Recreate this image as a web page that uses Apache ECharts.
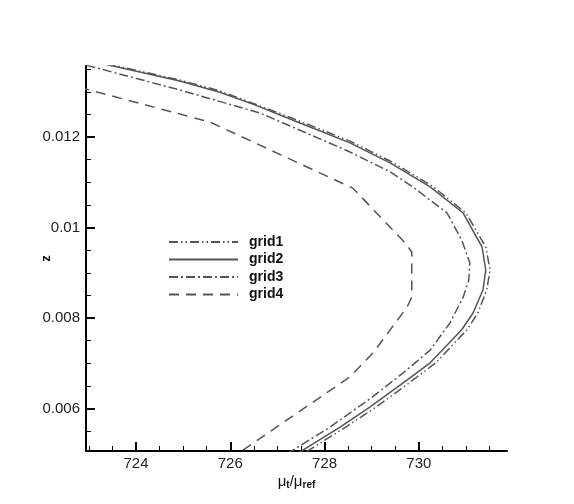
<!DOCTYPE html>
<html>
<head>
<meta charset="utf-8">
<script src="https://cdn.jsdelivr.net/npm/echarts@6/dist/echarts.min.js"></script>
<style>html,body{margin:0;padding:0;background:#fff}#c{width:574px;height:504px}</style>
</head>
<body>
<div id="c"></div>
<script>
// Series data: [mu_t/mu_ref, z]
var grid1 = [[722.94,0.01372],[723.51,0.01359],[724.93,0.01326],[725.78,0.01302],[726.52,0.01273],[727.48,0.01235],[728.54,0.01191],[729.39,0.01147],[730.28,0.01092],[731.00,0.01032],[731.42,0.00957],[731.51,0.00906],[731.44,0.00862],[731.25,0.00811],[731.02,0.00774],[730.36,0.00701],[729.79,0.00656],[729.09,0.00603],[728.45,0.00559],[727.67,0.00508],[727.35,0.00486]];
var grid2 = [[722.94,0.01370],[723.51,0.01357],[724.93,0.01324],[725.78,0.01299],[726.52,0.01271],[727.48,0.01231],[728.54,0.01187],[729.39,0.01143],[730.24,0.01090],[730.94,0.01032],[731.34,0.00957],[731.42,0.00906],[731.36,0.00862],[731.15,0.00811],[730.91,0.00774],[730.24,0.00701],[729.66,0.00656],[728.96,0.00603],[728.33,0.00559],[727.54,0.00508],[727.20,0.00486]];
var grid3 = [[722.60,0.01368],[722.94,0.01359],[724.93,0.01304],[726.63,0.01253],[727.48,0.01215],[728.54,0.01167],[729.39,0.01123],[729.87,0.01090],[730.60,0.01032],[730.91,0.00972],[731.08,0.00922],[731.06,0.00884],[730.94,0.00846],[730.66,0.00789],[730.24,0.00729],[729.66,0.00678],[729.01,0.00625],[728.12,0.00559],[727.33,0.00508],[727.00,0.00486]];
var grid4 = [[722.80,0.01310],[722.94,0.01306],[725.57,0.01233],[728.60,0.01087],[729.71,0.00966],[729.85,0.00946],[729.85,0.00846],[729.75,0.00824],[729.03,0.00723],[728.54,0.00670],[726.27,0.00508],[725.95,0.00486]];

var xMajor = [724, 726, 728, 730];
var xMinor = [723, 723.5, 724.5, 725, 725.5, 726.5, 727, 727.5, 728.5, 729, 729.5, 730.5, 731, 731.5];
var yMajor = [0.006, 0.008, 0.01, 0.012];
var yMinor = [0.0055, 0.0065, 0.007, 0.0075, 0.0085, 0.009, 0.0095, 0.0105, 0.011, 0.0115, 0.0125, 0.013, 0.0135];
var seriesNames = ['grid1', 'grid2', 'grid3', 'grid4'];

var FONT = '"Liberation Sans", Arial, Helvetica, sans-serif';
var lineColor = '#555555';
var chart = echarts.init(document.getElementById('c'), null, {renderer: 'canvas'});

var xMin = 722.94, xMax = 731.87, yMin = 0.00506, yMax = 0.01357;

function mkSeries(name, data, type) {
  return {
    name: name, type: 'line', data: data, xAxisIndex: 0, yAxisIndex: 0,
    symbol: 'none', showSymbol: false, smooth: false, clip: true, animation: false,
    lineStyle: {color: lineColor, width: 1.5, type: type},
    itemStyle: {color: lineColor}
  };
}

chart.setOption({
  animation: false,
  grid: {left: 86, right: 67, top: 66, bottom: 53, containLabel: false},
  legend: {
    orient: 'vertical', left: 163, top: 230,
    itemWidth: 69, itemHeight: 14, itemGap: 3.5,
    data: seriesNames,
    itemStyle: {opacity: 0},
    textStyle: {fontFamily: FONT, fontWeight: 'bold', fontSize: 14, color: '#111', padding: [0, 0, 0, 6]}
  },
  xAxis: [{
    type: 'value', min: xMin, max: xMax, position: 'bottom',
    name: '{a|\u03bc}{b|t}{a|/\u03bc}{b|ref}', nameLocation: 'middle', nameGap: 22, nameMoveOverlap: false,
    nameTextStyle: {rich: {
      a: {fontFamily: FONT, fontSize: 15, color: '#111'},
      b: {fontFamily: FONT, fontSize: 10, fontWeight: 'bold', color: '#111', padding: [7, 0, 0, 0], verticalAlign: 'bottom'}
    }},
    axisLine: {show: true, lineStyle: {color: '#000', width: 2}},
    axisTick: {show: true, inside: true, length: 9, customValues: xMajor, lineStyle: {color: '#000', width: 2}},
    axisLabel: {show: true, customValues: xMajor, margin: 5, fontFamily: FONT, fontSize: 15, color: '#222'},
    splitLine: {show: false}
  }, {
    type: 'value', min: xMin, max: xMax, position: 'bottom',
    axisLine: {show: false},
    axisTick: {show: true, inside: true, length: 5, customValues: xMinor, lineStyle: {color: '#000', width: 1}},
    axisLabel: {show: false},
    splitLine: {show: false}
  }],
  yAxis: [{
    type: 'value', min: yMin, max: yMax, position: 'left',
    name: 'z', nameLocation: 'middle', nameRotate: 90, nameGap: 33, nameMoveOverlap: false,
    nameTextStyle: {fontFamily: FONT, fontWeight: 'bold', fontSize: 13, color: '#111'},
    axisLine: {show: true, lineStyle: {color: '#000', width: 2}},
    axisTick: {show: true, inside: true, length: 9, customValues: yMajor, lineStyle: {color: '#000', width: 2}},
    axisLabel: {show: true, customValues: yMajor, margin: 6, fontFamily: FONT, fontSize: 15, color: '#222'},
    splitLine: {show: false}
  }, {
    type: 'value', min: yMin, max: yMax, position: 'left',
    axisLine: {show: false},
    axisTick: {show: true, inside: true, length: 5, customValues: yMinor, lineStyle: {color: '#000', width: 1}},
    axisLabel: {show: false},
    splitLine: {show: false}
  }],
  series: [
    mkSeries('grid1', grid1, [9, 3, 1.5, 3, 1.5, 3]),
    mkSeries('grid2', grid2, 'solid'),
    mkSeries('grid3', grid3, [9, 3, 2, 3]),
    mkSeries('grid4', grid4, [10, 7])
  ]
});
</script>
</body>
</html>
